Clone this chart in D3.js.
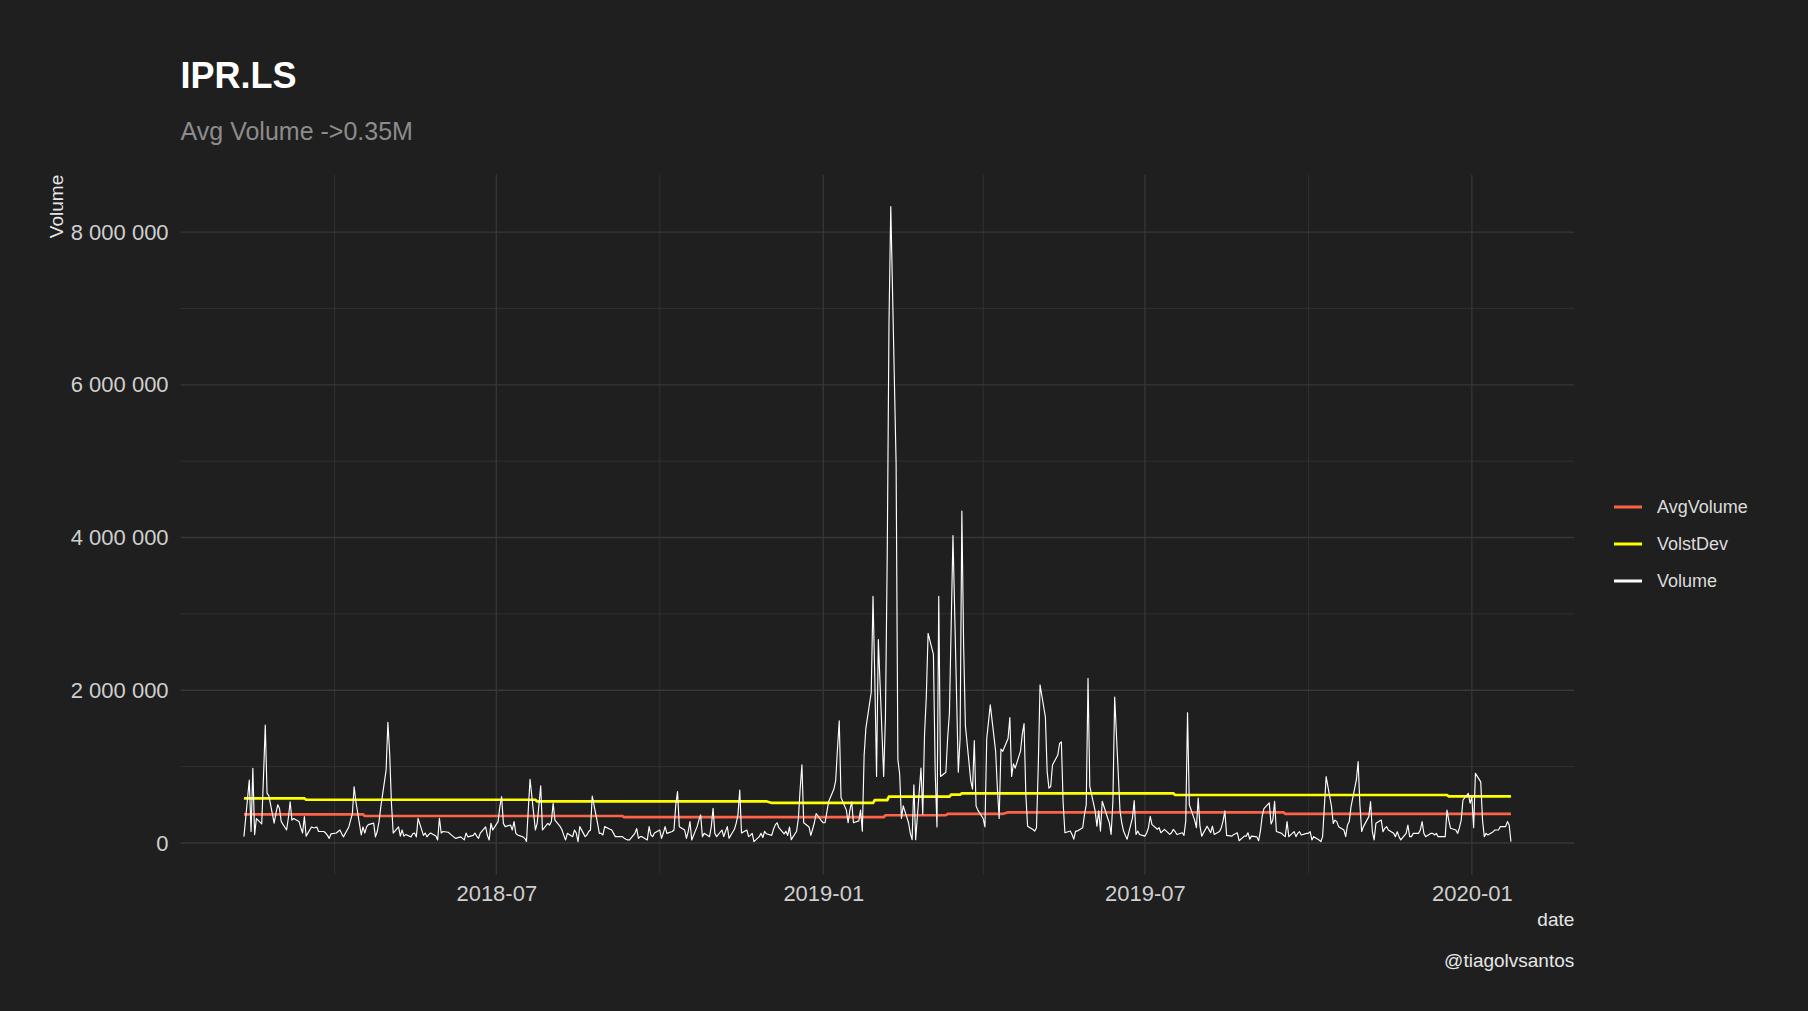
<!DOCTYPE html>
<html><head><meta charset="utf-8">
<script src="https://cdn.jsdelivr.net/npm/d3@7"></script>
<style>
html,body{margin:0;padding:0;background:#1f1f1f;}
svg{display:block;font-family:"Liberation Sans",Arial,sans-serif;}
</style>
</head><body>
<svg id="chart" width="1808" height="1011"></svg>
<script>
// ---------- DATA ----------
const chartTitle = "IPR.LS";
const chartSubtitle = "Avg Volume ->0.35M";
const xTitle = "date";
const yTitle = "Volume";
const caption = "@tiagolvsantos";

// first trading day; one value per weekday after it
const startDate = "2018-02-09";

// daily traded volume, in thousands of shares
const volumeThousands = [
  83, 825, 150, 977, 110, 320, 250, 870, 1545, 650,
  620, 260, 390, 500, 450, 280, 170, 330, 540, 300,
  320, 280, 200, 130, 345, 90, 210, 200, 200, 210,
  150, 150, 130, 100, 60, 120, 130, 150, 170, 120,
  80, 210, 300, 380, 737, 540, 105, 210, 130, 210,
  240, 260, 80, 150, 280, 470, 955, 1580, 1170, 520,
  130, 210, 90, 170, 90, 110, 80, 120, 130, 80,
  323, 100, 130, 80, 110, 130, 90, 40, 323, 130,
  150, 140, 120, 100, 80, 60, 80, 60, 40, 130,
  80, 100, 130, 90, 60, 130, 210, 100, 40, 257,
  170, 280, 475, 606, 257, 214, 235, 170, 280, 126,
  105, 80, 61, 20, 432, 833, 170, 257, 497, 750,
  170, 257, 235, 280, 520, 300, 214, 170, 100, 40,
  126, 83, 170, 130, 17, 214, 83, 105, 150, 170,
  615, 257, 126, 126, 105, 214, 180, 170, 126, 83,
  83, 83, 61, 50, 40, 40, 126, 190, 61, 83,
  83, 40, 214, 105, 83, 130, 170, 61, 130, 214,
  126, 150, 170, 497, 672, 214, 170, 61, 150, 280,
  40, 214, 300, 367, 83, 126, 83, 214, 454, 126,
  83, 170, 83, 150, 214, 61, 180, 257, 367, 694,
  130, 170, 83, 100, 126, 17, 83, 126, 72, 154,
  120, 100, 180, 237, 265, 200, 120, 154, 99, 210,
  44, 154, 320, 706, 1025, 265, 210, 99, 180, 265,
  386, 290, 265, 265, 400, 540, 706, 816, 1230, 1600,
  595, 430, 265, 430, 540, 265, 290, 430, 154, 1147,
  1505, 1974, 3230, 2167, 871, 2664, 871, 1643, 3750, 6811,
  8333, 4970, 1092, 900, 320, 485, 265, 127, 44, 761,
  44, 981, 375, 1423, 1919, 2746, 2470, 926, 210, 3230,
  871, 926, 1368, 1699, 2857, 4026, 926, 1368, 4346, 2581,
  1533, 816, 706, 1340, 485, 430, 320, 210, 1368, 1588,
  1809, 1202, 706, 320, 1230, 1200, 1368, 1643, 871, 1037,
  980, 1202, 1423, 1563, 632, 220, 177, 156, 200, 1000,
  2070, 1650, 935, 719, 740, 1022, 1152, 1303, 1325, 520,
  134, 156, 112, 50, 156, 156, 200, 372, 502, 2156,
  740, 420, 220, 420, 156, 546, 330, 264, 112, 546,
  1910, 420, 264, 156, 100, 50, 330, 554, 112, 156,
  112, 90, 130, 200, 350, 240, 180, 200, 134, 156,
  178, 112, 134, 178, 150, 112, 134, 100, 286, 1706,
  500, 300, 200, 589, 220, 90, 220, 178, 134, 220,
  112, 150, 200, 290, 420, 100, 90, 112, 120, 134,
  30, 90, 90, 134, 50, 90, 80, 30, 156, 350,
  450, 524, 250, 300, 546, 150, 126, 100, 83, 280,
  83, 148, 83, 126, 148, 105, 126, 126, 148, 40,
  83, 40, 17, 83, 476, 868, 480, 257, 300, 280,
  214, 170, 83, 235, 280, 476, 825, 1065, 500, 150,
  214, 345, 541, 150, 40, 257, 300, 148, 192, 214,
  170, 126, 83, 148, 83, 40, 126, 235, 83, 83,
  126, 126, 170, 280, 126, 83, 126, 126, 105, 126,
  83, 83, 83, 432, 300, 192, 170, 126, 200, 300,
  563, 650, 520, 600, 200, 912, 800, 300, 83, 126,
  105, 148, 170, 170, 170, 214, 214, 280, 235, 17
];

// AvgVolume: step changes (date from which the value holds), thousands
const avgStepDates  = ["2018-02-09", "2018-04-18", "2018-09-11", "2019-02-05", "2019-03-12", "2019-04-15", "2019-09-18"];
const avgStepValues = [375, 353, 338, 363, 380, 402, 380];

// VolstDev: step changes, thousands
const sdStepDates  = ["2018-02-09", "2018-03-16", "2018-07-24", "2018-12-03", "2019-01-30", "2019-02-07", "2019-03-14", "2019-03-20", "2019-07-18", "2019-12-19"];
const sdStepValues = [585, 566, 546, 524, 560, 606, 633, 650, 628, 611];

const yTickValues  = [0, 2000000, 4000000, 6000000, 8000000];
const yMinorValues = [1000000, 3000000, 5000000, 7000000];
const xTickDates   = ["2018-07-01", "2019-01-01", "2019-07-01", "2020-01-01"];
const xMinorDates  = ["2018-04-01", "2018-10-01", "2019-04-01", "2019-10-01"];

const seriesNames  = ["AvgVolume", "VolstDev", "Volume"];
const seriesColors = ["#ff6347", "#ffff00", "#ffffff"];

// ---------- BUILD ----------
const parse = d3.timeParse("%Y-%m-%d");
const dates = [];
{
  let d = parse(startDate);
  while (dates.length < volumeThousands.length) {
    const wd = d.getDay();
    if (wd !== 0 && wd !== 6) dates.push(new Date(d));
    d = d3.timeDay.offset(d, 1);
  }
}
function stepValue(stepDates, stepValues, date) {
  let v = stepValues[0];
  stepDates.forEach((s, k) => { if (parse(s) <= date) v = stepValues[k]; });
  return v;
}
const volume = dates.map((d, i) => ({date: d, value: volumeThousands[i] * 1000}));
const avgVol = dates.map(d => ({date: d, value: stepValue(avgStepDates, avgStepValues, d) * 1000}));
const sdVol  = dates.map(d => ({date: d, value: stepValue(sdStepDates, sdStepValues, d) * 1000}));

// ---------- LAYOUT ----------
const W = 1808, H = 1011;
const P = {left: 180.6, right: 1574.3, top: 174.8, bottom: 874.8};
const bg = "#1f1f1f";

const svg = d3.select("#chart");
svg.append("rect").attr("width", W).attr("height", H).attr("fill", bg);

const [t0, t1] = d3.extent(dates);
const span = t1 - t0;
const x = d3.scaleTime()
  .domain([new Date(+t0 - 0.05 * span), new Date(+t1 + 0.05 * span)])
  .range([P.left, P.right]);
const vmax = d3.max(volume, d => d.value);
const y = d3.scaleLinear()
  .domain([-0.05 * vmax, 1.05 * vmax])
  .range([P.bottom, P.top]);

// grid
const grid = svg.append("g");
grid.selectAll(".ymin").data(yMinorValues).join("line")
  .attr("x1", P.left).attr("x2", P.right)
  .attr("y1", d => y(d)).attr("y2", d => y(d))
  .attr("stroke", "#313131").attr("stroke-width", 1);
grid.selectAll(".xmin").data(xMinorDates).join("line")
  .attr("y1", P.top).attr("y2", P.bottom)
  .attr("x1", d => x(parse(d))).attr("x2", d => x(parse(d)))
  .attr("stroke", "#313131").attr("stroke-width", 1);
grid.selectAll(".ymaj").data(yTickValues).join("line")
  .attr("x1", P.left).attr("x2", P.right)
  .attr("y1", d => y(d)).attr("y2", d => y(d))
  .attr("stroke", "#373737").attr("stroke-width", 1.3);
grid.selectAll(".xmaj").data(xTickDates).join("line")
  .attr("y1", P.top).attr("y2", P.bottom)
  .attr("x1", d => x(parse(d))).attr("x2", d => x(parse(d)))
  .attr("stroke", "#373737").attr("stroke-width", 1.3);

// axes
const fmt = d3.formatLocale({decimal: ".", thousands: " ", grouping: [3], currency: ["", ""]}).format(",d");
const yAxis = svg.append("g").attr("transform", `translate(${P.left},0)`)
  .call(d3.axisLeft(y).tickValues(yTickValues).tickFormat(fmt).tickSize(0).tickPadding(12));
const xAxis = svg.append("g").attr("transform", `translate(0,${P.bottom})`)
  .call(d3.axisBottom(x).tickValues(xTickDates.map(parse)).tickFormat(d3.timeFormat("%Y-%m")).tickSize(0).tickPadding(11));
[yAxis, xAxis].forEach(a => {
  a.select(".domain").remove();
  a.selectAll("text").attr("fill", "#cfcfcf").style("font-size", "22px")
    .style("font-family", '"Liberation Sans",Arial,sans-serif');
});

// lines
const line = d3.line().x(d => x(d.date)).y(d => y(d.value));
svg.append("path").datum(avgVol).attr("d", line)
  .attr("fill", "none").attr("stroke", seriesColors[0]).attr("stroke-width", 2.7);
svg.append("path").datum(sdVol).attr("d", line)
  .attr("fill", "none").attr("stroke", seriesColors[1]).attr("stroke-width", 2.7);
svg.append("path").datum(volume).attr("d", line)
  .attr("fill", "none").attr("stroke", seriesColors[2]).attr("stroke-width", 1.15)
  .attr("stroke-linejoin", "round");

// titles
svg.append("text").attr("x", P.left).attr("y", 88).text(chartTitle)
  .attr("fill", "#ffffff").style("font-size", "36px").style("font-weight", "bold");
svg.append("text").attr("x", P.left).attr("y", 140).text(chartSubtitle)
  .attr("fill", "#8c8c8c").style("font-size", "25px");
svg.append("text").attr("transform", `translate(63,${P.top}) rotate(-90)`)
  .attr("text-anchor", "end").text(yTitle)
  .attr("fill", "#e6e6e6").style("font-size", "19px");
svg.append("text").attr("x", P.right).attr("y", 926).attr("text-anchor", "end").text(xTitle)
  .attr("fill", "#e6e6e6").style("font-size", "19px");
svg.append("text").attr("x", P.right).attr("y", 967).attr("text-anchor", "end").text(caption)
  .attr("fill", "#e6e6e6").style("font-size", "19px");

// legend
const legendY = [507, 544, 581];
const lg = svg.append("g");
seriesNames.forEach((name, k) => {
  lg.append("line").attr("x1", 1614).attr("x2", 1642)
    .attr("y1", legendY[k]).attr("y2", legendY[k])
    .attr("stroke", seriesColors[k]).attr("stroke-width", 3);
  lg.append("text").attr("x", 1657).attr("y", legendY[k]).attr("dy", "0.35em")
    .text(name).attr("fill", "#dcdcdc").style("font-size", "18px");
});
</script>
</body></html>
